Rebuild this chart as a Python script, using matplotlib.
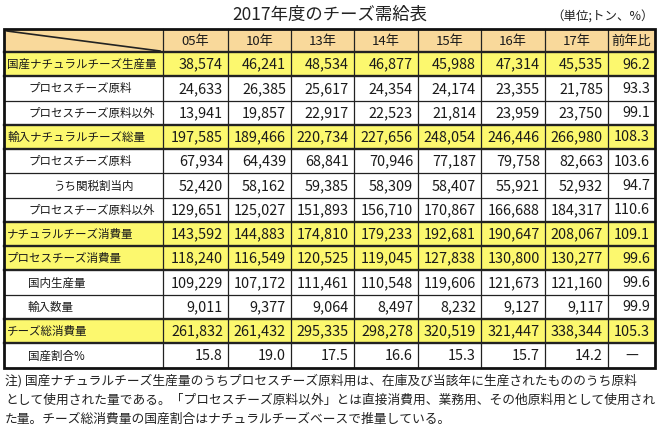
import matplotlib
matplotlib.use("Agg")
import matplotlib.pyplot as plt
from matplotlib.patches import Rectangle

plt.rcParams['font.family'] = ['Noto Sans CJK JP', 'DejaVu Sans']

title = "2017年度のチーズ需給表"
unit_text = "（単位;トン、%）"
years = ['05年', '10年', '13年', '14年', '15年', '16年', '17年']
ratio_header = '前年比'

row_labels = [
    '国産ナチュラルチーズ生産量',
    'プロセスチーズ原料',
    'プロセスチーズ原料以外',
    '輸入ナチュラルチーズ総量',
    'プロセスチーズ原料',
    'うち関税割当内',
    'プロセスチーズ原料以外',
    'ナチュラルチーズ消費量',
    'プロセスチーズ消費量',
    '国内生産量',
    '輸入数量',
    'チーズ総消費量',
    '国産割合%',
]

amounts = [
    [38574, 46241, 48534, 46877, 45988, 47314, 45535],
    [24633, 26385, 25617, 24354, 24174, 23355, 21785],
    [13941, 19857, 22917, 22523, 21814, 23959, 23750],
    [197585, 189466, 220734, 227656, 248054, 246446, 266980],
    [67934, 64439, 68841, 70946, 77187, 79758, 82663],
    [52420, 58162, 59385, 58309, 58407, 55921, 52932],
    [129651, 125027, 151893, 156710, 170867, 166688, 184317],
    [143592, 144883, 174810, 179233, 192681, 190647, 208067],
    [118240, 116549, 120525, 119045, 127838, 130800, 130277],
    [109229, 107172, 111461, 110548, 119606, 121673, 121160],
    [9011, 9377, 9064, 8497, 8232, 9127, 9117],
    [261832, 261432, 295335, 298278, 320519, 321447, 338344],
]
domestic_share = [15.8, 19.0, 17.5, 16.6, 15.3, 15.7, 14.2]
yoy_ratio = ['96.2', '93.3', '99.1', '108.3', '103.6', '94.7', '110.6',
             '109.1', '99.6', '99.6', '99.9', '105.3', '—']

note_lines = [
    "注) 国産ナチュラルチーズ生産量のうちプロセスチーズ原料用は、在庫及び当該年に生産されたもののうち原料",
    "として使用された量である。「プロセスチーズ原料以外」とは直接消費用、業務用、その他原料用として使用され",
    "た量。チーズ総消費量の国産割合はナチュラルチーズベースで推量している。",
]

# style lists (not data)
indent = [0, 1, 1, 0, 1, 2, 1, 0, 0, 1, 1, 0, 1]
highlight = [True, False, False, True, False, False, False, True, True, False, False, True, False]

W, H = 658, 425
fig = plt.figure(figsize=(W / 100, H / 100), dpi=100)
ax = fig.add_axes([0, 0, 1, 1])
ax.set_xlim(0, W)
ax.set_ylim(H, 0)
ax.axis('off')

col_edges = [4, 163, 228, 291, 354, 418, 481, 545, 608, 655]
top, head_bot, bottom = 29, 52, 367.5
nrows = len(row_labels)
rh = (bottom - head_bot) / nrows
row_edges = [head_bot + i * rh for i in range(nrows + 1)]

HEAD_C = '#F9D99B'
YEL_C = '#FCF86E'
TXT_C = '#1a1a1a'

ax.add_patch(Rectangle((col_edges[0], top), col_edges[-1] - col_edges[0], head_bot - top,
                       facecolor=HEAD_C, edgecolor='none', zorder=1))
for i in range(nrows):
    if highlight[i]:
        ax.add_patch(Rectangle((col_edges[0], row_edges[i]), col_edges[-1] - col_edges[0], rh,
                               facecolor=YEL_C, edgecolor='none', zorder=1))

ax.plot([col_edges[0] + 3, col_edges[1] - 3], [top + 2, head_bot - 1], color='#222', lw=1.2, zorder=3)

for x in col_edges[1:-1]:
    ax.plot([x, x], [top, bottom], color='#222', lw=0.9, zorder=3)
thick_rows = set([0])
for i in range(nrows):
    if highlight[i]:
        thick_rows.add(i)
        thick_rows.add(i + 1)
for i, y in enumerate(row_edges[:-1]):
    lw = 1.7 if i in thick_rows else 0.9
    ax.plot([col_edges[0], col_edges[-1]], [y, y], color='#222', lw=lw, zorder=3)
ax.add_patch(Rectangle((col_edges[0], top), col_edges[-1] - col_edges[0], bottom - top,
                       facecolor='none', edgecolor='#111', lw=2.0, zorder=4))

hy = (top + head_bot) / 2
for j, yr in enumerate(years + [ratio_header]):
    cx = (col_edges[j + 1] + col_edges[j + 2]) / 2
    ax.text(cx, hy + 0.5, yr, ha='center', va='center', fontsize=9.5, color=TXT_C, zorder=5)

indent_px = [3, 24, 49]
for i, lab in enumerate(row_labels):
    cy = (row_edges[i] + row_edges[i + 1]) / 2 + 0.5
    ax.text(col_edges[0] + indent_px[indent[i]], cy, lab, ha='left', va='center',
            fontsize=8.3, color=TXT_C, zorder=5)
    if i < len(amounts):
        vals = [f"{v:,}" for v in amounts[i]]
    else:
        vals = [f"{v:.1f}" for v in domestic_share]
    for j, s in enumerate(vals):
        ax.text(col_edges[j + 2] - 5, cy, s, ha='right', va='center',
                fontsize=10.4, color=TXT_C, zorder=5)
    r = yoy_ratio[i]
    if r == '—':
        ax.text((col_edges[-2] + col_edges[-1]) / 2, cy, r, ha='center', va='center',
                fontsize=10.4, color=TXT_C, zorder=5)
    else:
        ax.text(col_edges[-1] - 5, cy, r, ha='right', va='center',
                fontsize=10.4, color=TXT_C, zorder=5)

ax.text(330, 15, title, ha='center', va='center', fontsize=12.5, color='#222')
ax.text(654, 17, unit_text, ha='right', va='center', fontsize=9.0, color='#222')

# notes: fit first two lines to full width, third at same size
renderer = fig.canvas.get_renderer()
target_w = 648
base_fs = 9.2
for k, line in enumerate(note_lines):
    t = ax.text(5, 381 + k * 19.3, line, ha='left', va='center', fontsize=base_fs, color='#222')
    w = t.get_window_extent(renderer).width
    if w > target_w:
        t.set_fontsize(base_fs * target_w / w)

fig.savefig('out.png', dpi=100, facecolor='white')
